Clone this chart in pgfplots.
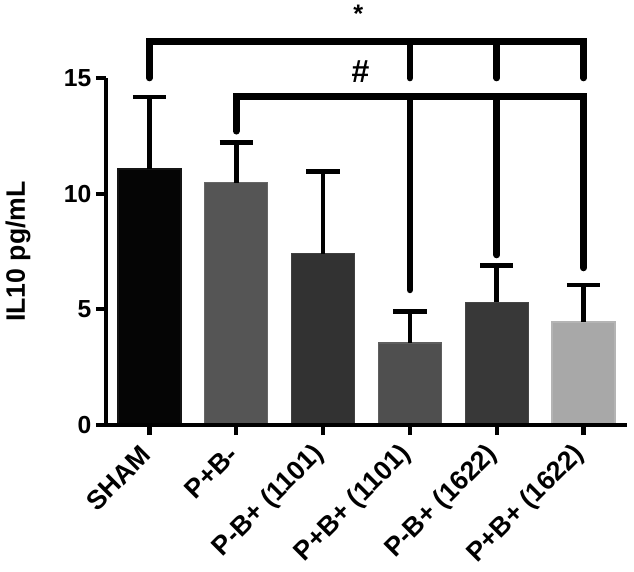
\documentclass[border=0pt]{standalone}
\usepackage{pgfplots}
\pgfplotsset{compat=1.18}
\usepackage{fontspec}
\setmainfont{Liberation Sans}

\definecolor{cA}{HTML}{050505}
\definecolor{cAe}{HTML}{151515}
\definecolor{cB}{HTML}{555555}
\definecolor{cBe}{HTML}{666666}
\definecolor{cC}{HTML}{323232}
\definecolor{cCe}{HTML}{404040}
\definecolor{cD}{HTML}{4F4F4F}
\definecolor{cDe}{HTML}{5E5E5E}
\definecolor{cE}{HTML}{383838}
\definecolor{cEe}{HTML}{454545}
\definecolor{cF}{HTML}{A8A8A8}
\definecolor{cFe}{HTML}{B4B4B4}

\pgfplotsset{
  mybar/.style={ybar, bar width=0.725, bar shift=0pt, line width=1pt,
    error bars/y dir=plus, error bars/y explicit,
    error bars/error mark=|,
    error bars/error bar style={line width=3.5pt, black},
    error bars/error mark options={line width=3.5pt, mark size=12.5pt, black}}
}

\begin{document}
\begin{tikzpicture}
\begin{axis}[
  scale only axis, width=390.75pt, height=260.25pt,
  xmin=-0.5, xmax=5.5, ymin=0, ymax=15,
  axis x line=bottom, axis y line=left,
  axis line style={-, line width=3.4pt, black},
  clip=false,
  axis on top,
  xtick={0,1,2,3,4,5},
  xticklabels={SHAM, P+B-, P-B+ (1101), P+B+ (1101), P-B+ (1622), P+B+ (1622)},
  ytick={0,5,10,15},
  tick align=outside,
  major tick length=7.5pt,
  tick style={line width=3.2pt, black},
  ticklabel style={font=\fontsize{18.5}{22}\selectfont\bfseries},
  xticklabel style={rotate=45, anchor=east, font=\fontsize{20}{24}\selectfont\bfseries},
  xticklabel shift=9pt,
  /pgf/number format/assume math mode=true,
  ylabel={IL10 pg/mL},
  ylabel style={font=\fontsize{20}{24}\selectfont\bfseries,
    at={([xshift=-66pt]axis description cs:0,0.5)}, anchor=center},
]
\coordinate (BL) at (axis cs:-0.5,0);
\coordinate (TR) at (axis cs:5.5,15);

\addplot[mybar, fill=cA, draw=cAe] coordinates {(0,11.07) +- (0,3.11)};
\addplot[mybar, fill=cB, draw=cBe] coordinates {(1,10.48) +- (0,1.72)};
\addplot[mybar, fill=cC, draw=cCe] coordinates {(2,7.40) +- (0,3.55)};
\addplot[mybar, fill=cD, draw=cDe] coordinates {(3,3.55) +- (0,1.35)};
\addplot[mybar, fill=cE, draw=cEe] coordinates {(4,5.30) +- (0,1.60)};
\addplot[mybar, fill=cF, draw=cFe] coordinates {(5,4.45) +- (0,1.60)};

% significance brackets
\draw[line width=5pt, line cap=round, line join=miter]
  (axis cs:0,15.0) -- (axis cs:0,16.57) -- (axis cs:5,16.57) -- (axis cs:5,15.0);
\draw[line width=5pt, line cap=round] (axis cs:3,16.57) -- (axis cs:3,15.0);
\draw[line width=5pt, line cap=round] (axis cs:4,16.57) -- (axis cs:4,15.0);
\draw[line width=5pt, line cap=round, line join=miter]
  (axis cs:1,12.7) -- (axis cs:1,14.19) -- (axis cs:5,14.19) -- (axis cs:5,6.79);
\draw[line width=5pt, line cap=round] (axis cs:3,14.19) -- (axis cs:3,5.84);
\draw[line width=5pt, line cap=round] (axis cs:4,14.19) -- (axis cs:4,7.35);
\node[font=\fontsize{19}{22}\selectfont\bfseries] at (axis cs:2.405,17.78) {*};
\node[font=\fontsize{24}{28}\selectfont\bfseries] at (axis cs:2.43,15.26) {\#};
\end{axis}
\pgfresetboundingbox
\path[use as bounding box] ([shift={(-79.5pt,-109.5pt)}]BL) rectangle ([shift={(5.25pt,58.5pt)}]TR);
\end{tikzpicture}
\end{document}
